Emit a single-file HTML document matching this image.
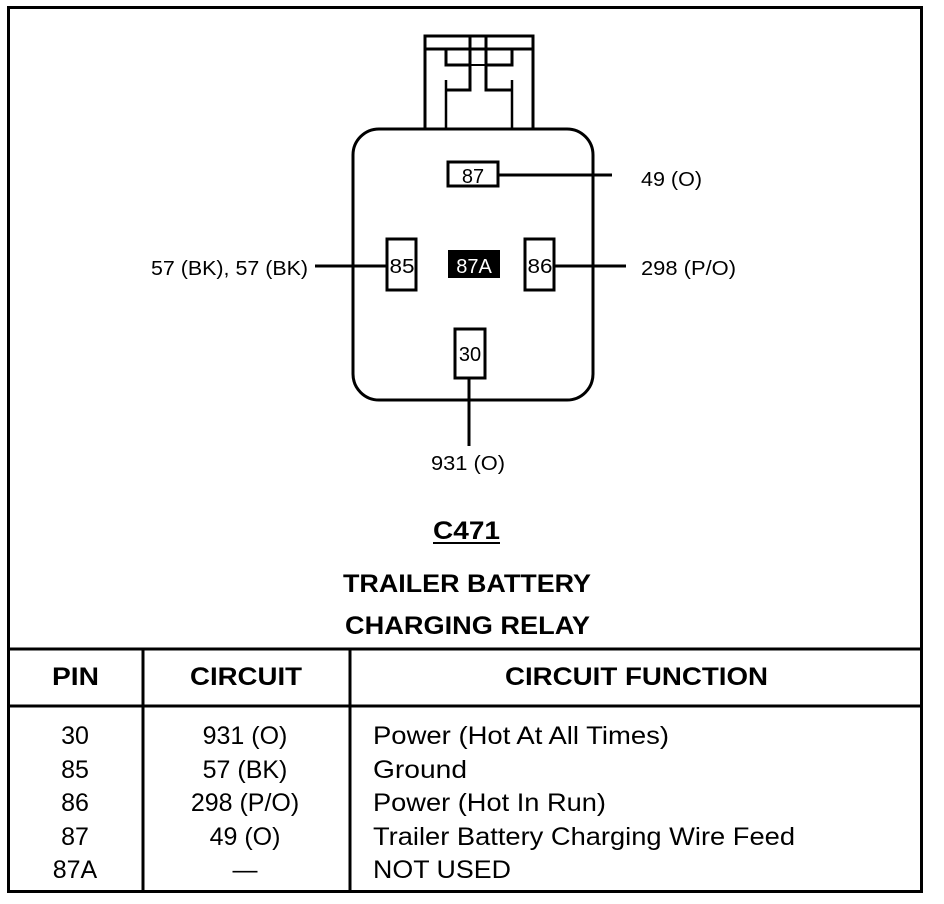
<!DOCTYPE html>
<html><head><style>
html,body{margin:0;padding:0;background:#fff;}
svg{display:block;}
text{font-family:"Liberation Sans",Arial,sans-serif;fill:#000;}
</style></head><body>
<svg width="944" height="904" viewBox="0 0 944 904" xmlns="http://www.w3.org/2000/svg">
<rect x="0" y="0" width="944" height="904" fill="#fff"/>
<rect x="8.5" y="7.5" width="913" height="884" fill="none" stroke="#000" stroke-width="3"/>
<g fill="none" stroke="#000" stroke-width="3">
<rect x="425" y="36" width="108" height="94"/>
<line x1="425" y1="49" x2="533" y2="49"/>
<polyline points="470,36 470,90 446,90"/>
<polyline points="486,36 486,90 512,90"/>
<polyline points="446,49 446,65 470,65"/>
<polyline points="512,49 512,65 486,65"/>
<line x1="470" y1="65" x2="486" y2="65" stroke-width="2"/>
<line x1="446" y1="80" x2="446" y2="130" stroke-width="2.5"/>
<line x1="512" y1="80" x2="512" y2="130" stroke-width="2.5"/>
<rect x="353" y="129" width="240" height="271" rx="26" ry="26" fill="#fff"/>
<rect x="448" y="162" width="50" height="24"/>
<rect x="387" y="239" width="29" height="51"/>
<rect x="525" y="239" width="29" height="51"/>
<rect x="455" y="329" width="30" height="49"/>
<line x1="498" y1="175" x2="612" y2="175"/>
<line x1="315" y1="266" x2="388" y2="266"/>
<line x1="553" y1="266" x2="626" y2="266"/>
<line x1="469" y1="378" x2="469" y2="446"/>
</g>
<rect x="448" y="250" width="52" height="28" fill="#000"/>
<g font-size="20">
<text x="473" y="183" text-anchor="middle">87</text>
<text x="402" y="273" text-anchor="middle" textLength="25" lengthAdjust="spacingAndGlyphs">85</text>
<text x="540" y="273" text-anchor="middle" textLength="25" lengthAdjust="spacingAndGlyphs">86</text>
<text x="474" y="273" text-anchor="middle" style="fill:#fff">87A</text>
<text x="470" y="361" text-anchor="middle">30</text>
<text x="641" y="186" textLength="61" lengthAdjust="spacingAndGlyphs">49 (O)</text>
<text x="151" y="275" textLength="157" lengthAdjust="spacingAndGlyphs">57 (BK), 57 (BK)</text>
<text x="641" y="275" textLength="95" lengthAdjust="spacingAndGlyphs">298 (P/O)</text>
<text x="431" y="470" textLength="74" lengthAdjust="spacingAndGlyphs">931 (O)</text>
</g>
<g font-size="25" font-weight="bold">
<text x="433" y="539" textLength="67" lengthAdjust="spacingAndGlyphs">C471</text>
<text x="343" y="592" textLength="248" lengthAdjust="spacingAndGlyphs">TRAILER BATTERY</text>
<text x="345" y="634" textLength="245" lengthAdjust="spacingAndGlyphs">CHARGING RELAY</text>
</g>
<line x1="433" y1="543" x2="500" y2="543" stroke="#000" stroke-width="2"/>
<g stroke="#000" stroke-width="3">
<line x1="8" y1="649" x2="922" y2="649"/>
<line x1="8" y1="706" x2="922" y2="706"/>
<line x1="143" y1="649" x2="143" y2="892"/>
<line x1="350" y1="649" x2="350" y2="892"/>
</g>
<g font-size="25" font-weight="bold">
<text x="52" y="685" textLength="47" lengthAdjust="spacingAndGlyphs">PIN</text>
<text x="190" y="685" textLength="112" lengthAdjust="spacingAndGlyphs">CIRCUIT</text>
<text x="505" y="685" textLength="263" lengthAdjust="spacingAndGlyphs">CIRCUIT FUNCTION</text>
</g>
<g font-size="25">
<g text-anchor="middle">
<text x="75" y="744">30</text><text x="75" y="778">85</text><text x="75" y="811">86</text><text x="75" y="845">87</text><text x="75" y="878">87A</text>
<text x="245" y="744">931 (O)</text><text x="245" y="778">57 (BK)</text><text x="245" y="811">298 (P/O)</text><text x="245" y="845">49 (O)</text><text x="245" y="878">—</text>
</g>
<text x="373" y="744" textLength="296" lengthAdjust="spacingAndGlyphs">Power (Hot At All Times)</text>
<text x="373" y="778" textLength="94" lengthAdjust="spacingAndGlyphs">Ground</text>
<text x="373" y="811" textLength="233" lengthAdjust="spacingAndGlyphs">Power (Hot In Run)</text>
<text x="373" y="845" textLength="422" lengthAdjust="spacingAndGlyphs">Trailer Battery Charging Wire Feed</text>
<text x="373" y="878" textLength="138" lengthAdjust="spacingAndGlyphs">NOT USED</text>
</g>
</svg>
</body></html>
